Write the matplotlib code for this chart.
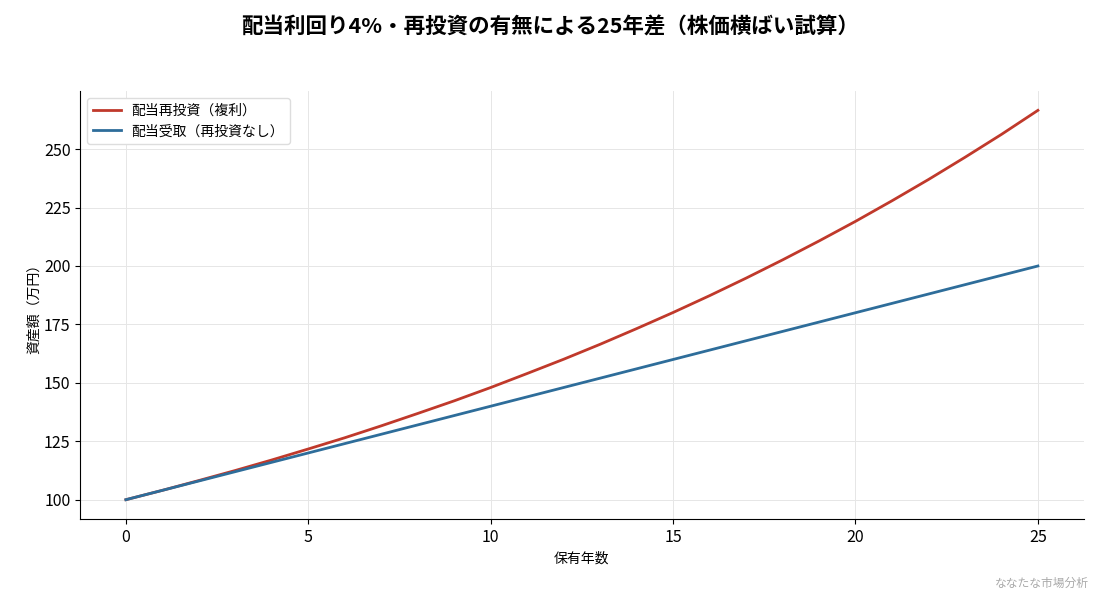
import matplotlib
matplotlib.use('Agg')
import matplotlib.pyplot as plt

plt.rcParams['font.family'] = ['Noto Sans CJK JP', 'DejaVu Sans']

years = list(range(0, 26))
# 配当再投資（複利）の資産額（万円）
reinvest = [100.0, 104.0, 108.2, 112.5, 117.0, 121.7, 126.5, 131.6, 136.9, 142.3,
            148.0, 154.0, 160.1, 166.5, 173.2, 180.1, 187.3, 194.8, 202.6, 210.7,
            219.1, 227.9, 237.0, 246.5, 256.3, 266.6]
# 配当受取（再投資なし）
receive = [100, 104, 108, 112, 116, 120, 124, 128, 132, 136,
           140, 144, 148, 152, 156, 160, 164, 168, 172, 176,
           180, 184, 188, 192, 196, 200]

fig = plt.figure(figsize=(11, 5.94), dpi=100)
ax = fig.add_axes([0.073, 0.126, 0.912, 0.721])

ax.plot(years, reinvest, color='#c0392b', linewidth=2, label='配当再投資（複利）')
ax.plot(years, receive, color='#2e6d9a', linewidth=2, label='配当受取（再投資なし）')

ax.set_xticks([0, 5, 10, 15, 20, 25])
ax.set_yticks([100, 125, 150, 175, 200, 225, 250])
ax.tick_params(labelsize=11.5)
ax.set_xlabel('保有年数', fontsize=10)
ax.set_ylabel('資産額（万円）', fontsize=10, labelpad=2)
ax.grid(True, color='#e6e6e6', linewidth=0.7)
ax.set_axisbelow(True)
ax.spines['top'].set_visible(False)
ax.spines['right'].set_visible(False)
ax.legend(loc='upper left', fontsize=10, framealpha=1, edgecolor='#dddddd')

fig.text(0.5, 0.955, '配当利回り4%・再投資の有無による25年差（株価横ばい試算）',
         ha='center', va='center', fontsize=15.5, fontweight='bold')
fig.text(0.99, 0.018, 'ななたな市場分析', ha='right', va='center', fontsize=8.5, color='#aaaaaa')

fig.savefig('out.png', dpi=100)
